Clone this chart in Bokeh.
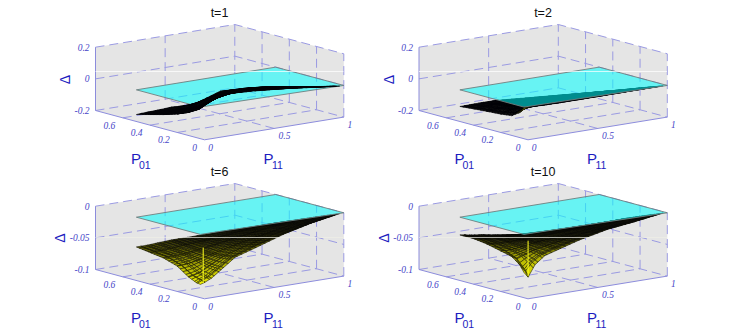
import math
from bokeh.plotting import figure
from bokeh.models import Range1d
from bokeh.core.properties import value
from bokeh.embed import file_html
from bokeh.resources import INLINE

# ---- data ----
P11_GRID = [0, .03, .08, .15, .25, .4, .6, .8, 1]
P01_GRID = [.03, .06, .12, .2, .3, .4, .5]
DELTA_T1 = [
    [0, .012, .034, .052, .054, .045, .03, .009, -.011],
    [-.02, -.012, .004, .03, .045, .041, .022, .004, -.019],
    [-.053, -.046, -.046, -.009, .019, .027, .01, -.01, -.034],
    [-.084, -.082, -.085, -.066, -.032, .004, -.01, -.028, -.053],
    [-.11, -.11, -.107, -.109, -.095, -.032, -.036, -.051, -.077],
    [-.133, -.133, -.133, -.133, -.133, -.093, -.067, -.075, -.102],
    [-.156, -.154, -.152, -.15, -.145, -.154, -.095, -.102, -.126],
]
DELTA_T2 = [
    [-.006, -.004, -.007, -.009, -.010, -.010, -.010, -.009, -.009],
    [-.042, -.024, -.016, -.016, -.018, -.019, -.019, -.019, -.019],
    [-.075, -.060, -.040, -.034, -.033, -.034, -.035, -.036, -.037],
    [-.084, -.078, -.065, -.056, -.052, -.053, -.056, -.059, -.062],
    [-.090, -.088, -.082, -.076, -.072, -.075, -.082, -.088, -.094],
    [-.097, -.096, -.093, -.090, -.088, -.095, -.105, -.115, -.125],
    [-.105, -.105, -.104, -.103, -.103, -.114, -.128, -.142, -.156],
]
DELTA_T6 = [
    [-.079, -.077, -.072, -.061, -.045, -.035, -.021, -.0105, -.003],
    [-.078, -.075, -.071, -.061, -.047, -.036, -.024, -.014, -.006],
    [-.072, -.071, -.068, -.060, -.049, -.039, -.028, -.019, -.011],
    [-.060, -.060, -.059, -.056, -.050, -.042, -.033, -.025, -.018],
    [-.053, -.053, -.053, -.052, -.049, -.044, -.037, -.031, -.027],
    [-.050, -.050, -.050, -.049, -.047, -.045, -.041, -.037, -.036],
    [-.047, -.047, -.047, -.046, -.045, -.045, -.044, -.045, -.045],
]
DELTA_T10 = [
    [-.060, -.0686, -.0508, -.039, -.0325, -.023, -.0136, -.0084, -.002],
    [-.050, -.058, -.047, -.038, -.032, -.024, -.016, -.011, -.005],
    [-.040, -.044, -.041, -.036, -.032, -.026, -.020, -.016, -.010],
    [-.036, -.037, -.037, -.035, -.032, -.029, -.025, -.021, -.017],
    [-.031, -.032, -.033, -.033, -.033, -.032, -.030, -.028, -.026],
    [-.028, -.029, -.031, -.032, -.034, -.036, -.036, -.036, -.036],
    [-.028, -.029, -.031, -.033, -.037, -.042, -.044, -.045, -.0455],
]
PLANE_P11 = [0, 1, 1, 0]
PLANE_P01 = [.03, 0, .5, .5]
TITLES = ["t=1", "t=2", "t=6", "t=10"]
Z_TICKS_WIDE = [-.2, 0, .2]
Z_LABELS_WIDE = ["-0.2", "0", "0.2"]
Z_TICKS_NARROW = [-.1, -.05, 0]
Z_LABELS_NARROW = ["-0.1", "-0.05", "0"]
P11_TICKS = [0, .5, 1]
P11_LABELS = ["0", "0.5", "1"]
P01_TICKS = [0, .2, .4, .6]
P01_LABELS = ["0", "0.2", "0.4", "0.6"]
P01_MAX = .8
# ---- panel layout and style ----
PANELS = [
    dict(title=TITLES[0], grid=DELTA_T1, zt=Z_TICKS_WIDE, zl=Z_LABELS_WIDE, dx=0, dy=0, reach=.09, floor=8, over=.08, spike=None, dx_lab=64),
    dict(title=TITLES[1], grid=DELTA_T2, zt=Z_TICKS_WIDE, zl=Z_LABELS_WIDE, dx=323.5, dy=0, reach=.09, floor=8, over=None, spike=None, dx_lab=388.3),
    dict(title=TITLES[2], grid=DELTA_T6, zt=Z_TICKS_NARROW, zl=Z_LABELS_NARROW, dx=0, dy=159, reach=.8, floor=48, over=None, spike=(.02, .03, -.0775, -.0215), dx_lab=59.3),
    dict(title=TITLES[3], grid=DELTA_T10, zt=Z_TICKS_NARROW, zl=Z_LABELS_NARROW, dx=323.5, dy=159, reach=.5, floor=48, over=None, spike=(.03, .03, -.067, -.011), dx_lab=383.3),
]
MESH_P11 = 30
MESH_P01 = 22
GRID_C = "#9a9ae2"
AXIS_C = "#8c8cdc"
TICK_C = "#4646c8"
LABEL_C = "#1c1cc0"

p = figure(width=728, height=328, x_range=Range1d(0, 728), y_range=Range1d(328, 0),
           output_backend="svg", toolbar_location=None, min_border=0,
           background_fill_color="white", border_fill_color="white", outline_line_color=None)
p.xaxis.visible = False
p.yaxis.visible = False
p.xgrid.visible = False
p.ygrid.visible = False


def colour(s, floor, gain=1.0):
    s = max(0.0, min(1.0, s))
    v = s ** 1.4
    r = int((floor + (245 - floor) * v) * gain)
    return "#%02x%02x%02x" % (r, r, int(6 * (1 - v)))


def locate(grid_axis, x):
    for k in range(len(grid_axis) - 1):
        if x <= grid_axis[k + 1]:
            return k, (x - grid_axis[k]) / (grid_axis[k + 1] - grid_axis[k])
    return len(grid_axis) - 2, 1.0


def surface_value(grid, a, b):
    i, u = locate(P11_GRID, a)
    j, w = locate(P01_GRID, b)
    return ((1 - u) * (1 - w) * grid[j][i] + u * (1 - w) * grid[j][i + 1]
            + (1 - u) * w * grid[j + 1][i] + u * w * grid[j + 1][i + 1])


mesh_a = sorted(set(P11_GRID) | {k / MESH_P11 for k in range(MESH_P11 + 1)})
mesh_b = sorted(set(P01_GRID) | {P01_GRID[0] + (P01_GRID[-1] - P01_GRID[0]) * k / MESH_P01 for k in range(MESH_P01 + 1)})

for P in PANELS:
    zt = P["zt"]
    zmin, zmax = zt[0], zt[-1]
    dx, dy = P["dx"], P["dy"]

    def pr(a, b, z):
        return (204 + dx + a * 139.3 - b / P01_MAX * 109,
                139.3 + dy - a * 22.7 - b / P01_MAX * 29.3 - (z - zmin) / (zmax - zmin) * 63.3)

    # walls and floor
    outline = [pr(0, P01_MAX, zmax), pr(1, P01_MAX, zmax), pr(1, 0, zmax), pr(1, 0, zmin), pr(0, 0, zmin), pr(0, P01_MAX, zmin)]
    p.patch([c[0] for c in outline], [c[1] for c in outline], fill_color="#e5e5e5", line_color=None)

    # dashed grid
    segs = []
    for z in zt:
        segs.append([pr(0, P01_MAX, z), pr(1, P01_MAX, z), pr(1, 0, z)])
    segs.append([pr(.5, P01_MAX, zmin), pr(.5, P01_MAX, zmax)])
    segs.append([pr(1, P01_MAX, zmin), pr(1, P01_MAX, zmax)])
    segs.append([pr(1, 0, zmin), pr(1, 0, zmax)])
    segs.append([pr(.5, 0, zmin), pr(.5, P01_MAX, zmin)])
    for b in P01_TICKS[1:]:
        segs.append([pr(1, b, zmin), pr(1, b, zmax)])
        segs.append([pr(0, b, zmin), pr(1, b, zmin)])
    p.multi_line([[c[0] for c in s] for s in segs], [[c[1] for c in s] for s in segs],
                 line_color=GRID_C, line_width=1, line_dash="9 5")

    # solid axes
    axes = [[pr(0, P01_MAX, zmax), pr(0, P01_MAX, zmin), pr(0, 0, zmin), pr(1, 0, zmin)]]
    p.multi_line([[c[0] for c in s] for s in axes], [[c[1] for c in s] for s in axes],
                 line_color=AXIS_C, line_width=1)

    # surface as a fine shaded mesh over the read values, far to near
    grid = P["grid"]
    under, over = [], []
    cells = [(i, j) for j in range(len(mesh_b) - 1) for i in range(len(mesh_a) - 1)]
    cells.sort(key=lambda c: -(mesh_a[c[0]] + mesh_b[c[1]]))
    for i, j in cells:
        a0, a1, b0, b1 = mesh_a[i], mesh_a[i + 1], mesh_b[j], mesh_b[j + 1]
        q = [pr(a, b, surface_value(grid, a, b)) for a, b in ((a0, b0), (a1, b0), (a1, b1), (a0, b1))]
        s = 1 - (a0 + a1 + b0 + b1 - .06) / 2 / P["reach"]
        item = ([c[0] for c in q], [c[1] for c in q], colour(s, P["floor"]), colour(s * .85, P["floor"], .18))
        (over if P["over"] is not None and a0 >= P["over"] else under).append(item)

    def draw(items):
        if items:
            p.patches([t[0] for t in items], [t[1] for t in items], fill_color=[t[2] for t in items],
                      line_color=[t[3] for t in items], line_width=.6)

    draw(under)
    if P["spike"]:
        a, b, z0, z1 = P["spike"]
        s0, s1 = pr(a, b, z0), pr(a, b, z1)
        p.line([s0[0], s1[0]], [s0[1], s1[1]], line_color="#ffff20", line_width=1)

    # reference plane Delta = 0
    q = [pr(a, b, 0) for a, b in zip(PLANE_P11, PLANE_P01)]
    p.patch([c[0] for c in q], [c[1] for c in q], fill_color="#00ffff", fill_alpha=.55,
            line_color="#6f7f7f", line_width=.9)
    draw(over)

    # light scan line across the panel
    sy = 71 + dy + (7 if dy else 0)
    p.line([95 + dx, 343 + dx], [sy, sy], line_color="#ffffff" if not dy else "#eeeee6", line_width=.8, line_alpha=.9)

    # tick labels
    for z, t in zip(zt, P["zl"]):
        c = pr(0, P01_MAX, z)
        p.text([c[0] - 6], [c[1]], text=[t], text_font=value("Liberation Serif"), text_font_style="italic",
               text_font_size="9.5px", text_color=TICK_C, text_align="right", text_baseline="middle")
    for a, t in zip(P11_TICKS, P11_LABELS):
        c = pr(a, 0, zmin)
        p.text([c[0] + (10.4 if t == "0.5" else 6)], [c[1] + 7.5], text=[t], text_font=value("Liberation Serif"),
               text_font_style="italic", text_font_size="9.5px", text_color=TICK_C, text_align="center", text_baseline="middle")
    for b, t in zip(P01_TICKS, P01_LABELS):
        c = pr(0, b, zmin)
        p.text([c[0] - (10 if t == "0" else 13.4)], [c[1] + 7.4], text=[t], text_font=value("Liberation Serif"),
               text_font_style="italic", text_font_size="9.5px", text_color=TICK_C, text_align="center", text_baseline="middle")

    # axis labels
    lab = dict(text_font=value("Liberation Sans"), text_color=LABEL_C, text_baseline="alphabetic", text_align="left")
    p.text([130.5 + dx], [158 + dy], text=["P"], text_font_size="15px", **lab)
    p.text([138.5 + dx], [164 + dy], text=["01"], text_font_size="10.5px", **lab)
    p.text([263 + dx], [158 + dy], text=["P"], text_font_size="15px", **lab)
    p.text([271.5 + dx], [164 + dy], text=["11"], text_font_size="10.5px", **lab)
    p.text([P["dx_lab"]], [79 + dy - (.5 if dy else 0)], text=["Δ"], angle=math.pi / 2, text_font=value("Liberation Sans"),
           text_color=LABEL_C, text_font_size="14px", text_align="center", text_baseline="middle")

    # title
    p.text([219 + dx], [12 + dy], text=[P["title"]], text_font=value("Liberation Sans"), text_color="#111111",
           text_font_size="12.5px", text_align="center", text_baseline="middle")

open("out.html", "w").write(file_html(p, INLINE))
